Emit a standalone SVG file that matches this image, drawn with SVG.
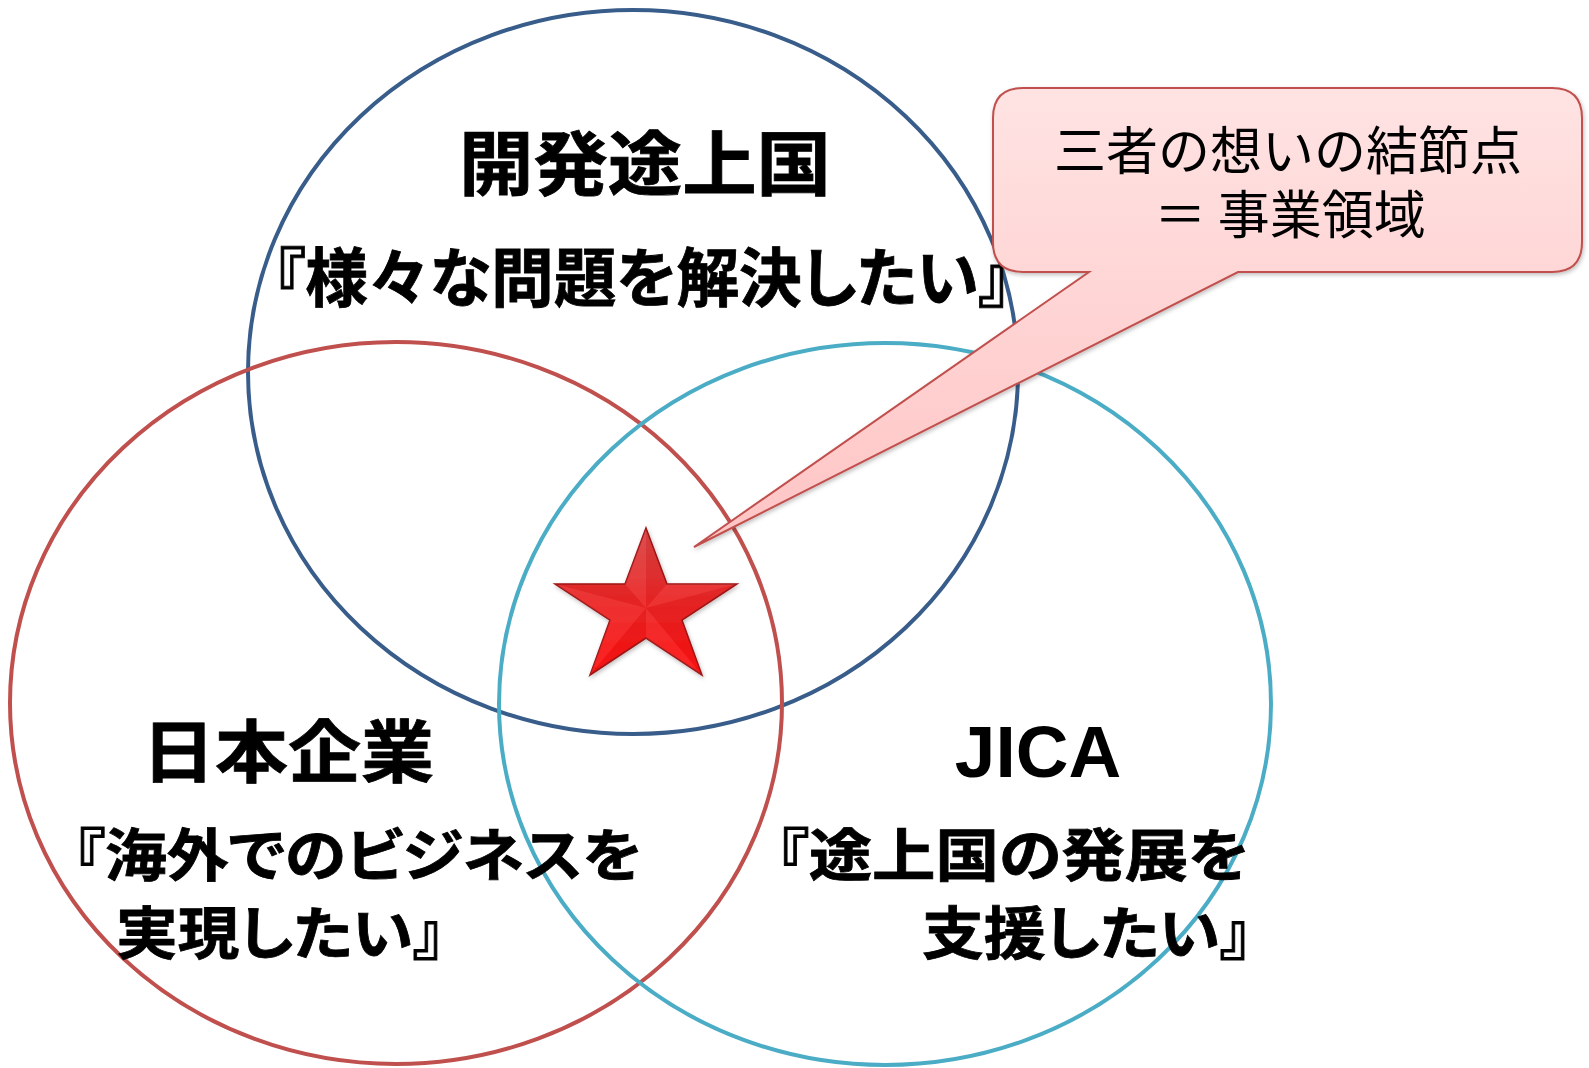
<svg xmlns="http://www.w3.org/2000/svg" width="1589" height="1068" viewBox="0 0 1589 1068">
<style>
.circ{fill:none;stroke-width:4}
.t{font-family:"Noto Sans CJK JP","Noto Sans CJK SC",sans-serif;font-weight:bold;fill:#000;stroke:#000;stroke-width:0.8;font-feature-settings:"palt"}
.c{font-family:"Noto Sans CJK JP","Noto Sans CJK SC",sans-serif;font-weight:normal;fill:#000}
.en{font-family:"Liberation Sans",Arial,sans-serif;font-weight:bold;fill:#000}
.lt{fill:#fff;opacity:0.06}
.dk{fill:#600;opacity:0.06}
</style>
<defs>
<linearGradient id="pink" x1="0" y1="0" x2="0" y2="1">
<stop offset="0" stop-color="#ffe3e3"/>
<stop offset="1" stop-color="#ffc4c4"/>
</linearGradient>
<linearGradient id="starg" x1="0" y1="0" x2="0" y2="1">
<stop offset="0" stop-color="#d94444"/>
<stop offset="0.5" stop-color="#ec2626"/>
<stop offset="1" stop-color="#ff0f0f"/>
</linearGradient>
<filter id="sh" x="-10%" y="-10%" width="120%" height="120%">
<feDropShadow dx="1" dy="2" stdDeviation="2" flood-color="#000" flood-opacity="0.25"/>
</filter>
</defs>
<rect width="1589" height="1068" fill="#fff"/>
<g id="circles">
<ellipse id="developing" class="circ" cx="633" cy="372" rx="385" ry="362" stroke="#385d8a"/>
<ellipse id="japan" class="circ" cx="396" cy="703" rx="386" ry="361" stroke="#c0504d"/>
<ellipse id="jica" class="circ" cx="885" cy="704" rx="386" ry="361" stroke="#4bacc6"/>
</g>
<g id="labels">
<text class="t" x="459" y="190" font-size="70" textLength="372" lengthAdjust="spacingAndGlyphs">開発途上国</text>
<text class="t" x="274" y="301" font-size="64" textLength="736" lengthAdjust="spacingAndGlyphs">『様々な問題を解決したい』</text>
<text class="t" x="142" y="777" font-size="68" textLength="292" lengthAdjust="spacingAndGlyphs">日本企業</text>
<text class="t" x="74" y="876" font-size="57" textLength="568" lengthAdjust="spacingAndGlyphs">『海外でのビジネスを</text>
<text class="t" x="116" y="954" font-size="57" textLength="328" lengthAdjust="spacingAndGlyphs">実現したい』</text>
<text class="en" x="1038" y="777" font-size="73" text-anchor="middle">JICA</text>
<text class="t" x="777" y="876" font-size="57" textLength="472" lengthAdjust="spacingAndGlyphs">『途上国の発展を</text>
<text class="t" x="922" y="954" font-size="57" textLength="329" lengthAdjust="spacingAndGlyphs">支援したい』</text>
</g>
<g id="connectors">
<path id="callout-shape" filter="url(#sh)" d="M1023 88 H1552 Q1582 88 1582 118 V242 Q1582 272 1552 272 H1238 L694 547 L1089 272 H1023 Q993 272 993 242 V118 Q993 88 1023 88 Z" fill="url(#pink)" stroke="#c0504d" stroke-width="2"/>
</g>
<g id="callout">
<text class="c" x="1288" y="170" font-size="52" text-anchor="middle">三者の想いの結節点</text>
<text class="c" x="1290" y="234" font-size="52" text-anchor="middle">＝ 事業領域</text>
</g>
<g id="star">
<polygon points="646,528 667,584 737,584 682,620 702,675 646,638 590,675 610,620 555,584 625,584" fill="url(#starg)" stroke="#a01515" stroke-width="1.5" stroke-linejoin="miter" filter="url(#sh)"/>
<polygon class="lt" points="646,528 646,608 625,584"/>
<polygon class="dk" points="646,528 646,608 667,584"/>
<polygon class="lt" points="737,584 646,608 667,584"/>
<polygon class="dk" points="737,584 646,608 682,620"/>
<polygon class="dk" points="702,675 646,608 682,620"/>
<polygon class="lt" points="702,675 646,608 646,638"/>
<polygon class="dk" points="590,675 646,608 646,638"/>
<polygon class="lt" points="590,675 646,608 610,620"/>
<polygon class="lt" points="555,584 646,608 610,620"/>
<polygon class="dk" points="555,584 646,608 625,584"/>
</g>
</svg>
